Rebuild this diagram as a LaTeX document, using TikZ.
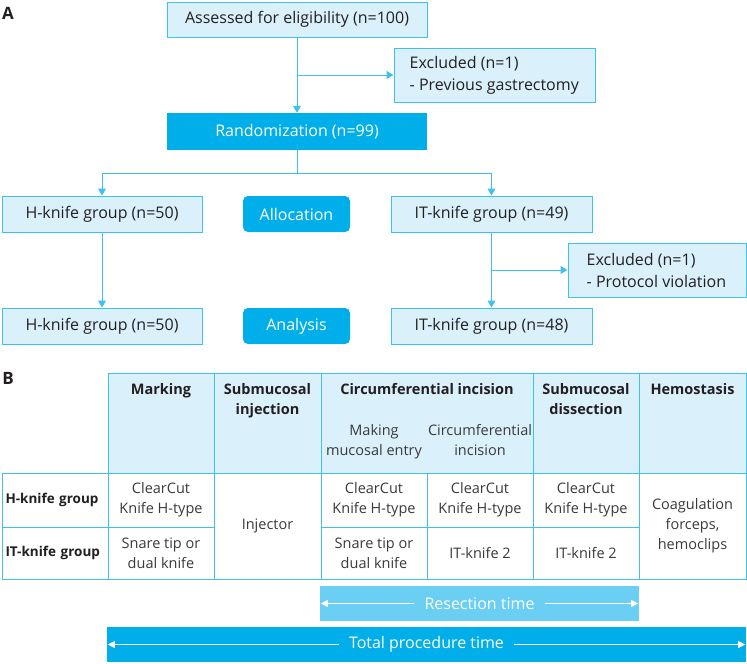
\documentclass[tikz,border=0pt]{standalone}
\usepackage{fontspec}
\setmainfont{Open Sans}
\usetikzlibrary{arrows.meta,positioning,calc}
\definecolor{cyanline}{HTML}{3EC1EF}
\definecolor{lightbox}{HTML}{DAF1FB}
\definecolor{darkbox}{HTML}{00AEEA}
\definecolor{resbox}{HTML}{6ACFF2}
\definecolor{ink}{HTML}{231F20}
\definecolor{cellink}{HTML}{3A3A3A}

\begin{document}
\begin{tikzpicture}[x=1pt,y=-1pt,font=\fontsize{16}{22}\selectfont,text=ink,
  n/.style={draw=cyanline,line width=1pt,fill=lightbox,minimum height=36pt,inner sep=0pt},
  ex/.style={anchor=west,align=left,inner sep=0pt},
  dk/.style={fill=darkbox,text=white,inner sep=0pt},
  lbl/.style={dk,rounded corners=5pt,minimum width=107pt,minimum height=36pt},
  arr/.style={-{Triangle[length=7pt,width=8pt]},line width=1pt,cyanline},
  ln/.style={line width=1pt,cyanline},
  hd/.style={draw=cyanline,line width=1pt,fill=lightbox,minimum height=100pt,inner sep=0pt},
  ht/.style={anchor=north,inner sep=0pt,align=center,font=\fontsize{14.5}{20}\selectfont\bfseries},
  st/.style={anchor=north,inner sep=0pt,align=center,text=cellink,font=\fontsize{14.5}{20}\selectfont},
  cl/.style={draw=cyanline,line width=1pt,fill=white,align=center,inner sep=0pt,text=cellink,
    font=\fontsize{14.5}{20}\selectfont},
  rl/.style={cl,text=ink,text width=99pt,inner xsep=3.5pt,align=left,minimum width=106pt,
    font=\fontsize{13.5}{20}\selectfont\bfseries},
  bar/.style={minimum height=35pt,inner sep=0pt},
  bt/.style={text=white,inner xsep=10pt,inner ysep=0pt},
  barr/.style={-{Triangle[length=7pt,width=7pt]},line width=1.2pt,white,shorten >=1pt}]
\useasboundingbox (0,0) rectangle (747,664);

% A: flow
\node[font=\fontsize{17}{17}\selectfont\bfseries] (pa) at (8,13) {A};
\node[n,minimum width=260pt,minimum height=35pt] (assess) at (297,19.5) {Assessed for eligibility (n=100)};
\node[n,minimum width=201pt,minimum height=54pt] (excl1) at (494.5,75) {};
\node[ex] (excl1txt) at ($(excl1.west)+(16,0)$) {Excluded (n=1)\\- Previous gastrectomy};
\node[dk,minimum width=260pt,minimum height=37pt] (rand) at (297,131.5) {Randomization (n=99)};
\node[n,minimum width=200pt] (h1) at (102,214) {H-knife group (n=50)};
\node[lbl] (alloc) at (296.5,214) {Allocation};
\node[n,minimum width=201pt] (it1) at (491.5,214) {IT-knife group (n=49)};
\node[n,minimum width=178pt,minimum height=54pt] (excl2) at (657,270) {};
\node[ex] (excl2txt) at ($(excl2.west)+(19,0)$) {Excluded (n=1)\\- Protocol violation};
\node[n,minimum width=200pt] (h2) at (102,326) {H-knife group (n=50)};
\node[lbl] (anal) at (296.5,326) {Analysis};
\node[n,minimum width=201pt] (it2) at (491.5,326) {IT-knife group (n=48)};
\coordinate (b1) at (297,75);
\coordinate (split) at (297,173);
\coordinate (b2) at (491.5,270);
\draw[arr] (assess)--(rand);
\draw[arr] (b1)--(excl1);
\draw[ln] (rand)--(split);
\draw[arr] (split) -| (h1);
\draw[arr] (split) -| (it1);
\draw[arr] (h1)--(h2);
\draw[arr] (it1)--(it2);
\draw[arr] (b2)--(excl2);

% B: table
\node[font=\fontsize{17}{17}\selectfont\bfseries] (pb) at (8,378) {B};
\node[hd,minimum width=106pt] (hmark) at (161,423) {};
\node[hd,minimum width=107pt] (hinj) at (267.5,423) {};
\node[hd,minimum width=212pt] (hcirc) at (427,423) {};
\node[hd,minimum width=106pt] (hdiss) at (586,423) {};
\node[hd,minimum width=107pt] (hhem) at (692.5,423) {};
\node[ht] (tmark) at (161,383) {Marking};
\node[ht] (tinj) at (267.5,383) {Submucosal\\injection};
\node[ht] (tcirc) at (427,383) {Circumferential incision};
\node[ht] (tdiss) at (586,383) {Submucosal\\dissection};
\node[ht] (them) at (692.5,383) {Hemostasis};
\node[st] (tentry) at (374,424) {Making\\mucosal entry};
\node[st] (tinc) at (480,424) {Circumferential\\incision};
\node[rl,minimum height=54pt] (rh) at (55,500) {H-knife group};
\node[rl,minimum height=52pt] (rit) at (55,553) {IT-knife group};
\node[cl,minimum width=106pt,minimum height=54pt] (c11) at (161,500) {ClearCut\\Knife H-type};
\node[cl,minimum width=106pt,minimum height=52pt] (c21) at (161,553) {Snare tip or\\dual knife};
\node[cl,minimum width=107pt,minimum height=106pt] (cinj) at (267.5,526) {Injector};
\node[cl,minimum width=106pt,minimum height=54pt] (c13) at (374,500) {ClearCut\\Knife H-type};
\node[cl,minimum width=106pt,minimum height=52pt] (c23) at (374,553) {Snare tip or\\dual knife};
\node[cl,minimum width=106pt,minimum height=54pt] (c14) at (480,500) {ClearCut\\Knife H-type};
\node[cl,minimum width=106pt,minimum height=52pt] (c24) at (480,553) {IT-knife 2};
\node[cl,minimum width=106pt,minimum height=54pt] (c15) at (586,500) {ClearCut\\Knife H-type};
\node[cl,minimum width=106pt,minimum height=52pt] (c25) at (586,553) {IT-knife 2};
\node[cl,minimum width=107pt,minimum height=106pt] (chem) at (692.5,526) {Coagulation\\forceps,\\hemoclips};

% time bars
\node[bar,fill=resbox,minimum width=319pt] (res) at (479.5,603.5) {};
\node[bt] (restxt) at (479.5,603.5) {Resection time};
\draw[barr] (restxt)--(res.west);
\draw[barr] (restxt)--(res.east);
\node[bar,fill=darkbox,minimum width=639pt] (tot) at (426.5,644.5) {};
\node[bt] (tottxt) at (426.5,644.5) {Total procedure time};
\draw[barr] (tottxt)--(tot.west);
\draw[barr] (tottxt)--(tot.east);
\end{tikzpicture}
\end{document}
